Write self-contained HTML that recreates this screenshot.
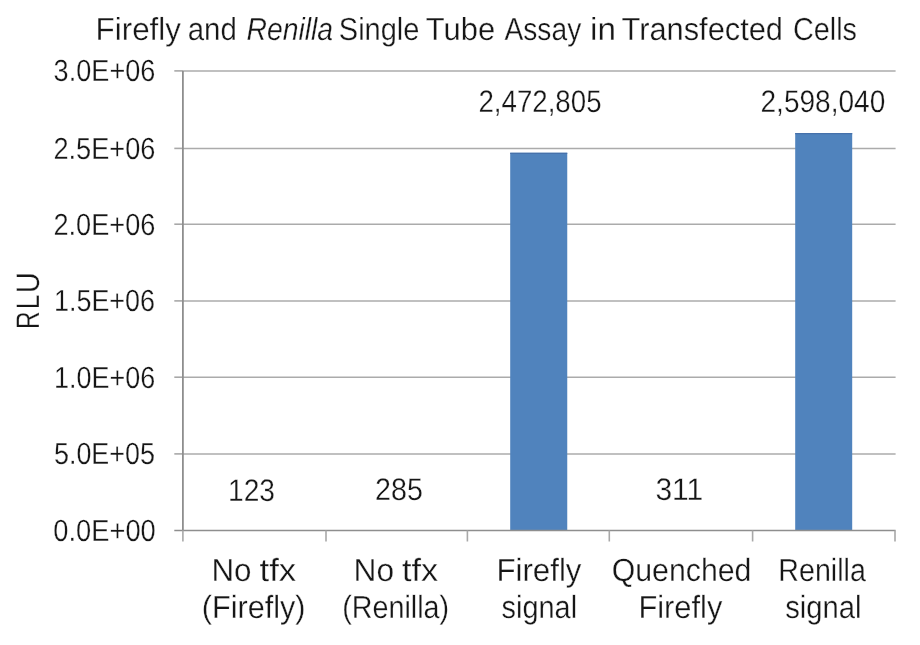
<!DOCTYPE html>
<html><head><meta charset="utf-8"><title>Firefly and Renilla Single Tube Assay in Transfected Cells</title>
<style>
html,body{margin:0;padding:0;background:#fff;}
body{width:920px;height:645px;overflow:hidden;}
svg{display:block;will-change:transform;}
svg text{font-family:"Liberation Sans", Arial, sans-serif;fill:#161616;stroke:#fff;stroke-width:0.3px;text-rendering:geometricPrecision;}
</style></head><body>
<svg width="920" height="645" viewBox="0 0 920 645">
<rect width="920" height="645" fill="#fff"/>
<line x1="174.3" y1="453.90" x2="183" y2="453.90" stroke="#a8a8a8" stroke-width="1.6"/>
<line x1="183" y1="453.90" x2="895.6" y2="453.90" stroke="#ababab" stroke-width="1.5"/>
<line x1="174.3" y1="377.20" x2="183" y2="377.20" stroke="#a8a8a8" stroke-width="1.6"/>
<line x1="183" y1="377.20" x2="895.6" y2="377.20" stroke="#ababab" stroke-width="1.5"/>
<line x1="174.3" y1="300.90" x2="183" y2="300.90" stroke="#a8a8a8" stroke-width="1.6"/>
<line x1="183" y1="300.90" x2="895.6" y2="300.90" stroke="#ababab" stroke-width="1.5"/>
<line x1="174.3" y1="224.20" x2="183" y2="224.20" stroke="#a8a8a8" stroke-width="1.6"/>
<line x1="183" y1="224.20" x2="895.6" y2="224.20" stroke="#ababab" stroke-width="1.5"/>
<line x1="174.3" y1="148.40" x2="183" y2="148.40" stroke="#a8a8a8" stroke-width="1.6"/>
<line x1="183" y1="148.40" x2="895.6" y2="148.40" stroke="#ababab" stroke-width="1.5"/>
<line x1="174.3" y1="70.90" x2="183" y2="70.90" stroke="#a8a8a8" stroke-width="1.6"/>
<line x1="183" y1="70.90" x2="895.6" y2="70.90" stroke="#ababab" stroke-width="1.5"/>
<rect x="510.2" y="152.75" width="57.05" height="377.75" fill="#5083bd"/>
<line x1="510.2" y1="153.35" x2="567.25" y2="153.35" stroke="#4671ab" stroke-width="1.2"/>
<rect x="795.2" y="133.0" width="57.00" height="397.50" fill="#5083bd"/>
<line x1="795.2" y1="133.60" x2="852.2" y2="133.60" stroke="#4671ab" stroke-width="1.2"/>
<line x1="182.9" y1="70.9" x2="182.9" y2="530.50" stroke="#8e8e8e" stroke-width="1.8"/>
<line x1="174.3" y1="530.50" x2="895.6" y2="530.50" stroke="#8e8e8e" stroke-width="1.7"/>
<line x1="182.90" y1="530.50" x2="182.90" y2="541.5" stroke="#a8a8a8" stroke-width="1.6"/>
<line x1="326.00" y1="530.50" x2="326.00" y2="541.5" stroke="#a8a8a8" stroke-width="1.6"/>
<line x1="467.40" y1="530.50" x2="467.40" y2="541.5" stroke="#a8a8a8" stroke-width="1.6"/>
<line x1="609.30" y1="530.50" x2="609.30" y2="541.5" stroke="#a8a8a8" stroke-width="1.6"/>
<line x1="752.60" y1="530.50" x2="752.60" y2="541.5" stroke="#a8a8a8" stroke-width="1.6"/>
<line x1="895.00" y1="530.50" x2="895.00" y2="541.5" stroke="#a8a8a8" stroke-width="1.6"/>
<text x="95.58" y="39.82" textLength="85.33" lengthAdjust="spacingAndGlyphs" style="font-size:31.85px;">Firefly</text>
<text x="187.72" y="39.82" textLength="49.17" lengthAdjust="spacingAndGlyphs" style="font-size:31.85px;">and</text>
<text x="246.51" y="39.82" textLength="86.59" lengthAdjust="spacingAndGlyphs" style="font-size:31.85px;font-style:italic">Renilla</text>
<text x="338.80" y="39.82" textLength="80.67" lengthAdjust="spacingAndGlyphs" style="font-size:31.85px;">Single</text>
<text x="425.79" y="39.82" textLength="69.31" lengthAdjust="spacingAndGlyphs" style="font-size:31.85px;">Tube</text>
<text x="504.42" y="39.82" textLength="76.85" lengthAdjust="spacingAndGlyphs" style="font-size:31.85px;">Assay</text>
<text x="590.09" y="39.82" textLength="25.95" lengthAdjust="spacingAndGlyphs" style="font-size:31.85px;">in</text>
<text x="621.48" y="39.82" textLength="161.53" lengthAdjust="spacingAndGlyphs" style="font-size:31.85px;">Transfected</text>
<text x="792.97" y="39.82" textLength="64.06" lengthAdjust="spacingAndGlyphs" style="font-size:31.85px;">Cells</text>
<text x="53.26" y="541.00" textLength="102.50" lengthAdjust="spacingAndGlyphs" style="font-size:30.55px;">0.0E+00</text>
<text x="53.98" y="464.40" textLength="100.91" lengthAdjust="spacingAndGlyphs" style="font-size:30.55px;">5.0E+05</text>
<text x="54.09" y="387.70" textLength="101.21" lengthAdjust="spacingAndGlyphs" style="font-size:30.55px;">1.0E+06</text>
<text x="53.96" y="311.40" textLength="101.10" lengthAdjust="spacingAndGlyphs" style="font-size:30.55px;">1.5E+06</text>
<text x="53.45" y="234.70" textLength="101.96" lengthAdjust="spacingAndGlyphs" style="font-size:30.55px;">2.0E+06</text>
<text x="53.45" y="158.90" textLength="101.96" lengthAdjust="spacingAndGlyphs" style="font-size:30.55px;">2.5E+06</text>
<text x="53.60" y="81.40" textLength="101.81" lengthAdjust="spacingAndGlyphs" style="font-size:30.55px;">3.0E+06</text>
<text x="478.41" y="112.35" textLength="123.11" lengthAdjust="spacingAndGlyphs" style="font-size:31.27px;">2,472,805</text>
<text x="760.48" y="112.35" textLength="124.86" lengthAdjust="spacingAndGlyphs" style="font-size:31.27px;">2,598,040</text>
<text x="227.99" y="500.55" textLength="46.99" lengthAdjust="spacingAndGlyphs" style="font-size:31.27px;">123</text>
<text x="375.10" y="500.45" textLength="47.80" lengthAdjust="spacingAndGlyphs" style="font-size:31.27px;">285</text>
<text x="655.39" y="500.45" textLength="47.85" lengthAdjust="spacingAndGlyphs" style="font-size:31.27px;">311</text>
<text x="211.47" y="580.75" textLength="40.08" lengthAdjust="spacingAndGlyphs" style="font-size:32.00px;">No</text>
<text x="259.51" y="580.75" textLength="36.68" lengthAdjust="spacingAndGlyphs" style="font-size:32.00px;">tfx</text>
<text x="201.84" y="617.75" textLength="103.71" lengthAdjust="spacingAndGlyphs" style="font-size:32.00px;">(Firefly)</text>
<text x="353.54" y="580.75" textLength="40.57" lengthAdjust="spacingAndGlyphs" style="font-size:32.00px;">No</text>
<text x="402.00" y="580.75" textLength="36.16" lengthAdjust="spacingAndGlyphs" style="font-size:32.00px;">tfx</text>
<text x="342.21" y="617.75" textLength="106.96" lengthAdjust="spacingAndGlyphs" style="font-size:32.00px;">(Renilla)</text>
<text x="496.38" y="580.75" textLength="85.08" lengthAdjust="spacingAndGlyphs" style="font-size:32.00px;">Firefly</text>
<text x="501.58" y="617.75" textLength="75.48" lengthAdjust="spacingAndGlyphs" style="font-size:32.00px;">signal</text>
<text x="611.66" y="580.75" textLength="139.78" lengthAdjust="spacingAndGlyphs" style="font-size:32.00px;">Quenched</text>
<text x="638.40" y="617.75" textLength="83.99" lengthAdjust="spacingAndGlyphs" style="font-size:32.00px;">Firefly</text>
<text x="778.32" y="580.75" textLength="87.55" lengthAdjust="spacingAndGlyphs" style="font-size:32.00px;">Renilla</text>
<text x="785.21" y="617.75" textLength="76.36" lengthAdjust="spacingAndGlyphs" style="font-size:32.00px;">signal</text>
<text transform="translate(38.55,329.07) rotate(-90)" x="0" y="0" textLength="17.63" lengthAdjust="spacingAndGlyphs" style="font-size:32.58px">R</text>
<text transform="translate(38.55,309.21) rotate(-90)" x="0" y="0" textLength="14.57" lengthAdjust="spacingAndGlyphs" style="font-size:32.58px">L</text>
<text transform="translate(38.55,293.31) rotate(-90)" x="0" y="0" textLength="21.16" lengthAdjust="spacingAndGlyphs" style="font-size:32.58px">U</text>
</svg>
</body></html>
